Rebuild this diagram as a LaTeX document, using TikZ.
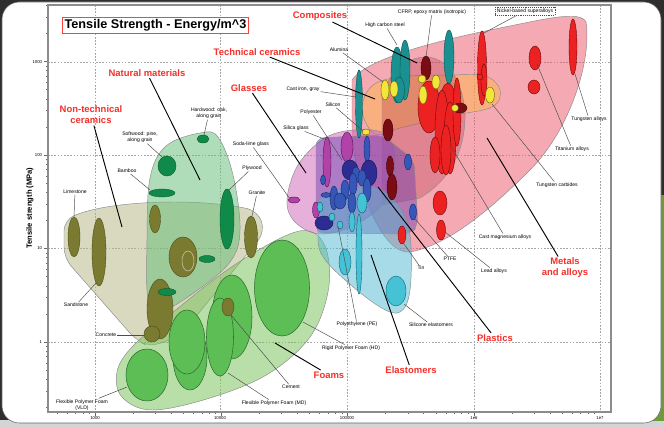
\documentclass[tikz,border=0pt]{standalone}
\usepackage{fontspec}
\setmainfont{Liberation Sans}
\usepackage{tikz}

\definecolor{framedark}{HTML}{2E2E2E}
\definecolor{framegray}{HTML}{D4D4D4}
\definecolor{framegreen}{HTML}{6E9A3C}
\definecolor{catred}{HTML}{F5302A}
\definecolor{nontechfill}{HTML}{B4B482}
\definecolor{naturalfill}{HTML}{62BC74}
\definecolor{foamfill}{HTML}{72C152}
\definecolor{glassfill}{HTML}{D062B8}
\definecolor{metalfill}{HTML}{EA5468}
\definecolor{ceramfill}{HTML}{FFB84A}
\definecolor{compfill}{HTML}{B84050}
\definecolor{plasticfill}{HTML}{6A3CB0}
\definecolor{elastfill}{HTML}{52B8D2}
\definecolor{olivec}{HTML}{7A7A30}
\definecolor{olived}{HTML}{4C4C1C}
\definecolor{dgreenc}{HTML}{108A48}
\definecolor{dgreend}{HTML}{0A5A2C}
\definecolor{foamc}{HTML}{5EBE56}
\definecolor{foamd}{HTML}{2C6C2C}
\definecolor{tealc}{HTML}{1A9090}
\definecolor{teald}{HTML}{0C5454}
\definecolor{yellowc}{HTML}{F2E63A}
\definecolor{yellowd}{HTML}{6E6000}
\definecolor{dredc}{HTML}{7C0C14}
\definecolor{dredd}{HTML}{3A0006}
\definecolor{redc}{HTML}{EC2222}
\definecolor{redd}{HTML}{6A0808}
\definecolor{bluec}{HTML}{3558B8}
\definecolor{blued}{HTML}{16266A}
\definecolor{navyc}{HTML}{2C2C92}
\definecolor{navyd}{HTML}{141448}
\definecolor{cyanc}{HTML}{46C2D6}
\definecolor{cyand}{HTML}{10606E}
\definecolor{magc}{HTML}{B042A8}
\definecolor{magd}{HTML}{561052}

\begin{document}
\begin{tikzpicture}[x=0.75pt,y=-0.75pt,
    lbl/.style={font=\fontsize{3.8}{4.9}\selectfont, inner sep=0.6pt, align=center},
    cat/.style={font=\fontsize{7.1}{8.2}\selectfont\bfseries, text=catred, inner sep=1pt, align=center},
    ticklbl/.style={font=\fontsize{3.2}{3.6}\selectfont, inner sep=0.5pt},
    lead/.style={draw=black!70, line width=0.35pt},
    catline/.style={draw=black, line width=0.7pt},
    gridline/.style={draw=black!35, line width=0.4pt, dash pattern=on 1.2pt off 1.2pt},
    region/.style={draw=black!45, line width=0.35pt, fill opacity=0.5},
    ob/.style={fill=olivec, draw=olived, line width=0.3pt},
    gb/.style={fill=dgreenc, draw=dgreend, line width=0.3pt},
    fb/.style={fill=foamc, draw=foamd, line width=0.4pt},
    tb/.style={fill=tealc, draw=teald, line width=0.3pt},
    yb/.style={fill=yellowc, draw=yellowd, line width=0.3pt},
    db/.style={fill=dredc, draw=dredd, line width=0.3pt},
    rb/.style={fill=redc, draw=redd, line width=0.3pt},
    bb/.style={fill=bluec, draw=blued, line width=0.3pt},
    nb/.style={fill=navyc, draw=navyd, line width=0.3pt},
    cb/.style={fill=cyanc, draw=cyand, line width=0.3pt},
    mb/.style={fill=magc, draw=magd, line width=0.3pt}]

\useasboundingbox (0,0) rectangle (664,427);

% slide frame
\fill[framedark] (0,0) rectangle (664,427);
\fill[framegray] (0,420) rectangle (664,427);
\fill[framegreen] (640,195) rectangle (664,421);
\filldraw[fill=white, draw=black!60, line width=0.4pt, rounded corners=13] (2,2) rectangle (661,423);

% grid and axes
\foreach \gx in {95,220,347,474,600}
  \draw[gridline] (\gx,5) -- (\gx,412);
\foreach \gy in {62,155,248,342}
  \draw[gridline] (48,\gy) -- (611,\gy);
\foreach \d in {2,...,6}
  \foreach \m in {1,...,9} {
    \pgfmathsetmacro\tx{95+126.3*(\d-3+log10(\m))}
    \pgfmathsetmacro\tl{\m==1 ? 4 : 2}
    \ifdim\tx pt>48pt \ifdim\tx pt<611pt
      \draw[black!60, line width=0.3pt] (\tx,412) -- (\tx,412+\tl);
    \fi\fi
  }
\foreach \d in {-1,...,3}
  \foreach \m in {1,...,9} {
    \pgfmathsetmacro\ty{342-93.5*(\d+log10(\m))}
    \pgfmathsetmacro\tl{\m==1 ? 4 : 2}
    \ifdim\ty pt>5pt \ifdim\ty pt<412pt
      \draw[black!60, line width=0.3pt] (48,\ty) -- (48-\tl,\ty);
    \fi\fi
  }
\draw[black!45, line width=0.9pt] (48,5) rectangle (611,412);

\node[ticklbl] (x3) at (95,418) {1000};
\node[ticklbl] (x4) at (220,418) {10000};
\node[ticklbl] (x5) at (347,418) {100000};
\node[ticklbl] (x6) at (474,418) {1e6};
\node[ticklbl] (x7) at (600,418) {1e7};
\node[ticklbl, anchor=east] (y3) at (43,62) {1000};
\node[ticklbl, anchor=east] (y2) at (43,155) {100};
\node[ticklbl, anchor=east] (y1) at (43,248) {10};
\node[ticklbl, anchor=east] (y0) at (43,342) {1};
\node[rotate=90, font=\fontsize{5.7}{6}\selectfont\bfseries] (ylab) at (30,208) {Tensile strength (MPa)};

% material families
\path[region, fill=nontechfill] [rounded corners=8] (64,258) -- (64,220)
  .. controls (110,200) and (200,198) .. (258,211) -- (265,232) -- (180,336) -- (150,347) -- (136,340) -- cycle;
\path[region, fill=naturalfill] plot[smooth cycle, tension=0.6] coordinates
  {(148,300) (147,240) (150,178) (166,146) (200,133) (218,137) (233,175) (240,230) (230,262) (195,292) (160,312)};
\path[region, fill=foamfill] plot[smooth cycle, tension=0.6] coordinates
  {(117,372) (132,347) (172,313) (230,268) (285,236) (312,232) (327,252) (328,292) (310,337) (268,374) (210,398) (152,410) (122,397)};
\path[region, fill=metalfill] (352,140) -- (352,80)
  .. controls (365,60) and (430,42) .. (500,28)
  .. controls (545,19) and (580,10) .. (586,22)
  .. controls (592,60) and (570,130) .. (530,170)
  .. controls (495,205) and (450,245) .. (410,252)
  .. controls (385,255) and (360,200) .. cycle;
\path[region, fill=ceramfill] plot[smooth cycle, tension=0.6] coordinates
  {(362,110) (372,86) (400,77) (450,75) (485,76) (500,90) (492,107) (450,116) (400,128) (375,134)};
\path[region, fill=compfill, fill opacity=0.35] (382,205) -- (382,95)
  .. controls (390,72) and (405,58) .. (425,57)
  .. controls (448,57) and (462,80) .. (465,112)
  .. controls (466,150) and (450,180) .. (420,198) -- cycle;
\path[region, fill=glassfill] plot[smooth cycle, tension=0.6] coordinates
  {(287,200) (298,165) (325,138) (355,130) (385,134) (395,160) (385,200) (355,225) (320,234) (295,222)};
\path[region, fill=plasticfill, fill opacity=0.45] [rounded corners=6] (316,233) -- (316,138) -- (382,135) -- (414,160) -- (418,226) -- (410,234) -- cycle;
\path[region, fill=elastfill] plot[smooth cycle, tension=0.6] coordinates
  {(318,232) (322,196) (372,187) (398,205) (410,235) (410,290) (400,312) (380,307) (345,280) (322,255)};

% non-technical ceramics
\path[ob] (74,237) ellipse [x radius=6, y radius=20];
\path[ob] (99,252) ellipse [x radius=7, y radius=34];
\path[ob] (155,219) ellipse [x radius=5.5, y radius=14];
\path[ob] (183,257) ellipse [x radius=14, y radius=20];
\draw[draw=olivec!40, line width=0.4pt] (188,261) ellipse [x radius=6, y radius=10];
\path[ob] (251,237) ellipse [x radius=6.5, y radius=21];
\path[ob] (160,309) ellipse [x radius=13, y radius=30];
\path[ob] (152,334) ellipse [x radius=8, y radius=8];

% natural materials
\path[gb] (203,139) ellipse [x radius=6, y radius=4];
\path[gb] (167,166) ellipse [x radius=9, y radius=10];
\path[gb] (162,193) ellipse [x radius=13, y radius=4];
\path[gb] (227,219) ellipse [x radius=7, y radius=30];
\path[gb] (207,259) ellipse [x radius=8, y radius=3.5];
\path[gb] (167,292) ellipse [x radius=9, y radius=3.5];

% foams
\path[fb] (147,375) ellipse [x radius=21, y radius=26];
\path[fb] (190,357) ellipse [x radius=17, y radius=33];
\path[fb] (187,342) ellipse [x radius=18, y radius=32];
\path[fb] (232,317) ellipse [x radius=20, y radius=42];
\path[fb] (220,337) ellipse [x radius=13.5, y radius=39];
\path[fb] (282,288) ellipse [x radius=27.5, y radius=48];
\path[ob] (228,307) ellipse [x radius=6, y radius=9];

% glasses, plastics, elastomers
\path[mb] (327,162) ellipse [x radius=4, y radius=25];
\path[mb] (347,147) ellipse [x radius=6, y radius=15];
\path[mb] (294,200) ellipse [x radius=6, y radius=3];
\path[mb] (316,210) ellipse [x radius=3.5, y radius=8];
\path[bb] (367,149) ellipse [x radius=3, y radius=13];
\path[nb] (350,170) ellipse [x radius=8, y radius=10];
\path[nb] (369,173) ellipse [x radius=8, y radius=13];
\path[nb] (324,223) ellipse [x radius=9, y radius=7];
\path[bb] (356,175) ellipse [x radius=4, y radius=8];
\path[bb] (362,178) ellipse [x radius=4, y radius=8];
\path[bb] (353,184) ellipse [x radius=4, y radius=11];
\path[bb] (367,190) ellipse [x radius=4, y radius=12];
\path[bb] (345,190) ellipse [x radius=4, y radius=10];
\path[bb] (334,198) ellipse [x radius=4, y radius=12];
\path[bb] (340,201) ellipse [x radius=6, y radius=8];
\path[bb] (323,180) ellipse [x radius=2.5, y radius=5];
\path[bb] (326,195) ellipse [x radius=5, y radius=2.5];
\path[bb] (352,203) ellipse [x radius=4, y radius=10];
\path[bb] (408,162) ellipse [x radius=3.5, y radius=8];
\path[bb] (413,212) ellipse [x radius=3.5, y radius=8];
\path[cb] (362,203) ellipse [x radius=5, y radius=10];
\path[cb] (352,222) ellipse [x radius=3, y radius=10];
\path[cb] (340,225) ellipse [x radius=3, y radius=4];
\path[cb] (332,217) ellipse [x radius=3, y radius=4];
\path[cb] (320,207) ellipse [x radius=3, y radius=5];
\path[cb] (359,254) ellipse [x radius=3, y radius=40];
\path[cb] (345,262) ellipse [x radius=6, y radius=13];
\path[cb] (396,291) ellipse [x radius=10, y radius=15];

% metals, ceramics, composites
\path[tb] (359,104) ellipse [x radius=3.5, y radius=34];
\path[tb] (397,75) ellipse [x radius=6, y radius=28];
\path[tb] (405,70) ellipse [x radius=5, y radius=30];
\path[tb] (399,90) ellipse [x radius=5.5, y radius=13];
\path[tb] (449,57) ellipse [x radius=5, y radius=27];
\path[db] (426,68) ellipse [x radius=5, y radius=12];
\path[db] (388,130) ellipse [x radius=5, y radius=11];
\path[db] (390,166) ellipse [x radius=3.5, y radius=10];
\path[db] (392,187) ellipse [x radius=5, y radius=13];
\path[rb] (429,107) ellipse [x radius=11, y radius=26];
\path[rb] (448,105) ellipse [x radius=8, y radius=22];
\path[rb] (442,132) ellipse [x radius=7, y radius=42];
\path[rb] (450,138) ellipse [x radius=6, y radius=36];
\path[rb] (446,150) ellipse [x radius=5, y radius=25];
\path[rb] (435,155) ellipse [x radius=5, y radius=18];
\path[rb] (457,112) ellipse [x radius=4, y radius=34];
\path[db] (460,108) ellipse [x radius=7, y radius=5];
\path[rb] (482,68) ellipse [x radius=4.5, y radius=37];
\path[rb] (484,80) ellipse [x radius=3, y radius=16];
\path[rb] (480,77) ellipse [x radius=3, y radius=3];
\path[rb] (535,58) ellipse [x radius=6, y radius=12];
\path[rb] (534,87) ellipse [x radius=6, y radius=7];
\path[rb] (573,47) ellipse [x radius=4, y radius=28];
\path[rb] (440,203) ellipse [x radius=7, y radius=12];
\path[rb] (441,230) ellipse [x radius=4.5, y radius=10];
\path[rb] (402,235) ellipse [x radius=4, y radius=9];
\path[yb] (385,90) ellipse [x radius=4, y radius=10];
\path[yb] (394,89) ellipse [x radius=4, y radius=8];
\path[yb] (422,79) ellipse [x radius=4, y radius=4];
\path[yb] (423,95) ellipse [x radius=4, y radius=9];
\path[yb] (436,82) ellipse [x radius=4, y radius=7];
\path[yb] (490,95) ellipse [x radius=4.5, y radius=8];
\path[yb] (455,108) ellipse [x radius=3.5, y radius=3.5];
\path[yb] (366,132) ellipse [x radius=4, y radius=3];

% material labels
\node[lbl] (limestone) at (75,192) {Limestone};
\draw[lead] (limestone) -- (74,217) coordinate (limestone-e);
\node[lbl] (sandstone) at (76,305) {Sandstone};
\draw[lead] (sandstone) -- (96,283) coordinate (sandstone-e);
\node[lbl] (concrete) at (106,335) {Concrete};
\draw[lead] (concrete) -- (144,335) coordinate (concrete-e);
\node[lbl] (foamvld) at (82,405) {Flexible Polymer Foam\\(VLD)};
\draw[lead] (foamvld) -- (127,387) coordinate (foamvld-e);
\node[lbl] (foammd) at (274,403) {Flexible Polymer Foam (MD)};
\draw[lead] (foammd) -- (228,373) coordinate (foammd-e);
\node[lbl] (cement) at (291,387) {Cement};
\draw[lead] (cement) -- (231,315) coordinate (cement-e);
\node[lbl] (foamhd) at (351,348) {Rigid Polymer Foam (HD)};
\draw[lead] (foamhd) -- (303,322) coordinate (foamhd-e);
\node[lbl] (pe) at (357,324) {Polyethylene (PE)};
\draw[lead] (pe) -- (338,226) coordinate (pe-e);
\node[lbl] (silicone) at (431,325) {Silicone elastomers};
\draw[lead] (silicone) -- (404,304) coordinate (silicone-e);
\node[lbl] (tin) at (421,268) {Tin};
\draw[lead] (tin) -- (404,244) coordinate (tin-e);
\node[lbl] (ptfe) at (450,259) {PTFE};
\draw[lead] (ptfe) -- (415,219) coordinate (ptfe-e);
\node[lbl] (lead) at (494,271) {Lead alloys};
\draw[lead] (lead) -- (445,232) coordinate (lead-e);
\node[lbl] (castmg) at (505,237) {Cast magnesium alloys};
\draw[lead] (castmg) -- (452,148) coordinate (castmg-e);
\node[lbl] (wcarb) at (557,185) {Tungsten carbides};
\draw[lead] (wcarb) -- (492,104) coordinate (wcarb-e);
\node[lbl] (titan) at (572,149) {Titanium alloys};
\draw[lead] (titan) -- (537,64) coordinate (titan-e);
\node[lbl] (walloy) at (589,119) {Tungsten alloys};
\draw[lead] (walloy) -- (575,74) coordinate (walloy-e);
\node[lbl, draw=black!70, densely dotted, inner sep=1.2pt] (nickel) at (525,11) {Nickel-based superalloys};
\draw[lead] (nickel) -- (484,33) coordinate (nickel-e);
\node[lbl] (cfrp) at (432,12) {CFRP, epoxy matrix (isotropic)};
\draw[lead] (cfrp) -- (426,57) coordinate (cfrp-e);
\node[lbl] (hcsteel) at (385,25) {High carbon steel};
\draw[lead] (hcsteel) -- (397,45) coordinate (hcsteel-e);
\node[lbl] (alumina) at (339,50) {Alumina};
\draw[lead] (alumina) -- (383,82) coordinate (alumina-e);
\node[lbl] (castiron) at (303,89) {Cast iron, gray};
\draw[lead] (castiron) -- (356,97) coordinate (castiron-e);
\node[lbl] (silicon) at (333,105) {Silicon};
\draw[lead] (silicon) -- (363,131) coordinate (silicon-e);
\node[lbl] (polyester) at (311,112) {Polyester};
\draw[lead] (polyester) -- (342,160) coordinate (polyester-e);
\node[lbl] (silica) at (296,128) {Silica glass};
\draw[lead] (silica) -- (324,139) coordinate (silica-e);
\node[lbl] (sodalime) at (251,144) {Soda-lime glass};
\draw[lead] (sodalime) -- (290,199) coordinate (sodalime-e);
\node[lbl] (hardwood) at (209,113) {Hardwood: oak,\\along grain};
\draw[lead] (hardwood) -- (204,135) coordinate (hardwood-e);
\node[lbl] (softwood) at (140,137) {Softwood: pine,\\along grain};
\draw[lead] (softwood) -- (162,157) coordinate (softwood-e);
\node[lbl] (bamboo) at (127,171) {Bamboo};
\draw[lead] (bamboo) -- (150,190) coordinate (bamboo-e);
\node[lbl] (plywood) at (252,168) {Plywood};
\draw[lead] (plywood) -- (229,190) coordinate (plywood-e);
\node[lbl] (granite) at (257,193) {Granite};
\draw[lead] (granite) -- (252,216) coordinate (granite-e);

% family labels
\node[cat] (composites) at (320,16) {Composites};
\draw[catline] (composites) -- (417,63) coordinate (composites-e);
\node[cat] (techceram) at (257,52) {Technical ceramics};
\draw[catline] (techceram) -- (375,99) coordinate (techceram-e);
\node[cat] (natural) at (147,73) {Natural materials};
\draw[catline] (natural) -- (200,180) coordinate (natural-e);
\node[cat] (glasses) at (249,88) {Glasses};
\draw[catline] (glasses) -- (306,173) coordinate (glasses-e);
\node[cat] (nontech) at (91,115) {Non-technical\\ceramics};
\draw[catline] (nontech) -- (122,227) coordinate (nontech-e);
\node[cat] (foams) at (329,375) {Foams};
\draw[catline] (foams) -- (275,343) coordinate (foams-e);
\node[cat] (elastomers) at (411,370) {Elastomers};
\draw[catline] (elastomers) -- (371,255) coordinate (elastomers-e);
\node[cat] (plastics) at (495,338) {Plastics};
\draw[catline] (plastics) -- (378,187) coordinate (plastics-e);
\node[cat] (metals) at (565,268) {Metals\\and alloys};
\draw[catline] (metals) -- (487,138) coordinate (metals-e);

% title
\node[draw=red!75, line width=0.6pt, fill=white, font=\fontsize{9.5}{10}\selectfont\bfseries,
  minimum width=140pt, minimum height=12pt, inner sep=1pt] (title) at (155.5,25) {Tensile Strength - Energy/m\textasciicircum 3};
\end{tikzpicture}
\end{document}
